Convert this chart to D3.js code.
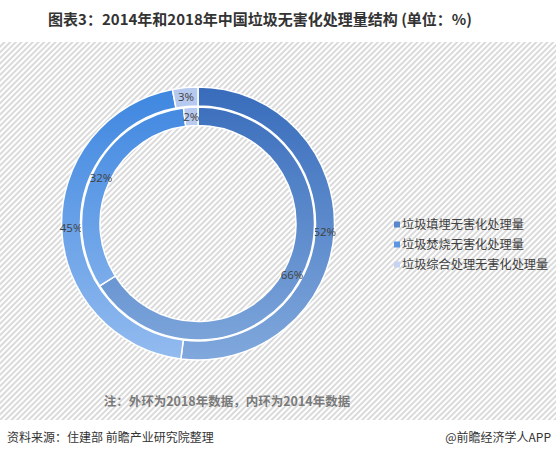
<!DOCTYPE html>
<html>
<head>
<meta charset="utf-8">
<script src="https://cdn.jsdelivr.net/npm/d3@7"></script>
<style>
  html, body { margin: 0; padding: 0; background: #fff; }
  svg { display: block; }
</style>
</head>
<body>
<svg id="chart" width="556" height="461"></svg>
<script>
// Categories and shares (%)
const categories = ["垃圾填埋无害化处理量", "垃圾焚烧无害化处理量", "垃圾综合处理无害化处理量"];
const values2018 = [52, 45, 3];   // outer ring
const values2014 = [66, 32, 2];   // inner ring
const titleText = "图表3：2014年和2018年中国垃圾无害化处理量结构 (单位：%)";
const noteText = "注：外环为2018年数据，内环为2014年数据";
const sourceText = "资料来源：住建部 前瞻产业研究院整理";
const brandText = "@前瞻经济学人APP";

const W = 556, H = 461;
const svg = d3.select("#chart");
const defs = svg.append("defs");

// Hatched panel background
const pat = defs.append("pattern")
  .attr("id", "hatch").attr("patternUnits", "userSpaceOnUse")
  .attr("width", 4).attr("height", 4)
  .attr("patternTransform", "rotate(45)");
pat.append("rect").attr("width", 4).attr("height", 4).attr("fill", "#ffffff");
pat.append("rect").attr("width", 2).attr("height", 4).attr("fill", "#dadada");

svg.append("rect").attr("x", 0).attr("y", 42).attr("width", W).attr("height", 378)
  .attr("fill", "url(#hatch)");

// Title
svg.append("text")
  .attr("x", 260).attr("y", 25)
  .attr("text-anchor", "middle")
  .attr("font-family", "'Noto Sans CJK SC', sans-serif")
  .attr("font-weight", "bold")
  .attr("font-size", 15)
  .attr("fill", "#333")
  .text(titleText);

// Donut geometry
const cx = 198, cy = 223.5;
const rings = [
  { values: values2018, r0: 117.5, r1: 136.5 },
  { values: values2014, r0: 98, r1: 116.5 }
];

// Vertical shading per category (coordinates relative to the donut centre)
const gradStops = [
  ["#386cbb", "#80a8dc"],
  ["#3d86e0", "#93bbef"],
  ["#b5c8ee", "#cddaf3"]
];
gradStops.forEach((s, i) => {
  const g = defs.append("linearGradient")
    .attr("id", "grad" + i).attr("gradientUnits", "userSpaceOnUse")
    .attr("x1", 0).attr("y1", -137).attr("x2", 0).attr("y2", 137);
  g.append("stop").attr("offset", 0).attr("stop-color", s[0]);
  g.append("stop").attr("offset", 1).attr("stop-color", s[1]);
});

const pie = d3.pie().sort(null).value(d => d);
const gChart = svg.append("g").attr("transform", `translate(${cx},${cy})`);

rings.forEach(ring => {
  const arcs = pie(ring.values);
  const arc = d3.arc().innerRadius(ring.r0).outerRadius(ring.r1);
  const g = gChart.append("g");
  g.selectAll("path").data(arcs).join("path")
    .attr("d", arc)
    .attr("fill", (d, i) => `url(#grad${i})`)
    .attr("stroke", "#fff")
    .attr("stroke-width", 1.5);
  const mid = (ring.r0 + ring.r1) / 2;
  g.selectAll("text").data(arcs).join("text")
    .attr("transform", d => {
      const a = (d.startAngle + d.endAngle) / 2;
      return `translate(${Math.sin(a) * mid},${-Math.cos(a) * mid})`;
    })
    .attr("text-anchor", "middle")
    .attr("dy", "0.36em")
    .attr("font-family", "'Open Sans', 'Noto Sans', sans-serif")
    .attr("font-size", 11.5)
    .attr("fill", "#404040")
    .text(d => d.data + "%");
});

// Legend
const legendColors = ["#5a86cb", "#5c95e2", "#c6d3f1"];
const lg = svg.append("g").attr("transform", "translate(394,225)");
const items = lg.selectAll("g").data(categories).join("g")
  .attr("transform", (d, i) => `translate(0,${i * 20})`);
items.append("rect").attr("x", 0).attr("y", -3.5).attr("width", 6).attr("height", 6)
  .attr("fill", (d, i) => legendColors[i]);
items.append("text").attr("x", 8).attr("dy", "0.35em")
  .attr("font-family", "'Noto Sans CJK SC', sans-serif")
  .attr("font-size", 12.2)
  .attr("fill", "#404040")
  .text(d => d);

// Note
svg.append("text")
  .attr("x", 227).attr("y", 406)
  .attr("text-anchor", "middle")
  .attr("font-family", "'Noto Sans CJK SC', serif")
  .attr("font-weight", "bold")
  .attr("font-size", 12.5)
  .attr("fill", "#7a7a7a")
  .text(noteText);

// Footer
svg.append("text")
  .attr("x", 7).attr("y", 442)
  .attr("font-family", "'Noto Sans CJK SC', sans-serif")
  .attr("font-size", 12)
  .attr("fill", "#333")
  .text(sourceText);
svg.append("text")
  .attr("x", 551).attr("y", 442)
  .attr("text-anchor", "end")
  .attr("font-family", "'Noto Sans CJK SC', sans-serif")
  .attr("font-size", 12)
  .attr("fill", "#333")
  .text(brandText);
</script>
</body>
</html>
